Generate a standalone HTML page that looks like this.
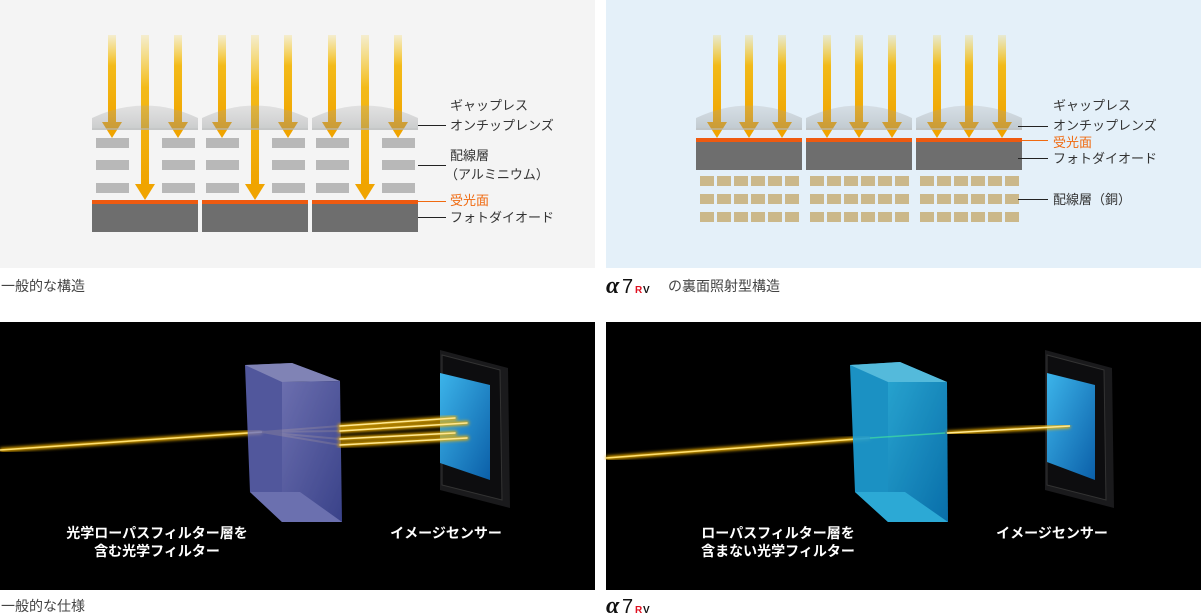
<!DOCTYPE html>
<html><head><meta charset="utf-8"><style>
html,body{margin:0;padding:0;background:#fff;}
svg{display:block;font-family:"Liberation Sans","Noto Sans CJK JP",sans-serif;}
</style></head><body>
<svg width="1201" height="615" viewBox="0 0 1201 615" xmlns="http://www.w3.org/2000/svg">
<defs>
<linearGradient id="ar" x1="0" y1="0" x2="0" y2="1">
<stop offset="0" stop-color="#f6c400" stop-opacity="0.15"/>
<stop offset="0.35" stop-color="#f3b400" stop-opacity="0.9"/>
<stop offset="1" stop-color="#f0a400"/>
</linearGradient>
<linearGradient id="lens" x1="0" y1="0" x2="0" y2="1">
<stop offset="0" stop-color="#a8a8a8" stop-opacity="0.25"/>
<stop offset="1" stop-color="#8a8e90" stop-opacity="0.4"/>
</linearGradient>
<linearGradient id="pf" x1="0" y1="0" x2="1" y2="1">
<stop offset="0" stop-color="#8a8ee0"/><stop offset="1" stop-color="#4a55b0"/>
</linearGradient>
<linearGradient id="pc" x1="0" y1="0" x2="1" y2="1">
<stop offset="0" stop-color="#2ab0e0"/><stop offset="1" stop-color="#0a78b8"/>
</linearGradient>
<linearGradient id="scr" x1="0" y1="0" x2="1" y2="1">
<stop offset="0" stop-color="#3cb4ea"/><stop offset="1" stop-color="#0b5fa8"/>
</linearGradient>
<filter id="gl"><feGaussianBlur stdDeviation="1.5"/></filter>
<g id="arrS"><rect x="-4" y="35" width="8" height="88" fill="url(#ar)"/><polygon points="-10,122 10,122 0,138" fill="#f0a400"/></g>
<g id="arrL"><rect x="-4" y="35" width="8" height="150" fill="url(#ar)"/><polygon points="-10,184 10,184 0,200" fill="#f0a400"/></g>
</defs>

<!-- top-left panel -->
<rect x="0" y="0" width="595" height="268" fill="#f4f4f4"/>
<g id="cellL">
<g fill="#b8b8b8">
<rect x="96" y="138" width="33" height="10"/><rect x="162" y="138" width="33" height="10"/>
<rect x="96" y="160" width="33" height="10"/><rect x="162" y="160" width="33" height="10"/>
<rect x="96" y="183" width="33" height="10"/><rect x="162" y="183" width="33" height="10"/>
</g>
<rect x="92" y="200" width="106" height="4" fill="#ee5a10"/>
<rect x="92" y="204" width="106" height="28" fill="#6e6e6e"/>
<use href="#arrS" x="112"/><use href="#arrS" x="178"/><use href="#arrL" x="145"/>
<path d="M92,118 Q145,93 198,118 L198,130 L92,130 Z" fill="url(#lens)"/>
<line x1="92" y1="129" x2="198" y2="129" stroke="#bfc1c1"/>
</g>
<use href="#cellL" x="110"/><use href="#cellL" x="220"/>
<g font-size="13" fill="#333">
<text x="450" y="110">ギャップレス</text>
<text x="450" y="130">オンチップレンズ</text>
<text x="450" y="160">配線層</text>
<text x="445" y="179">（アルミニウム）</text>
<text x="450" y="205" fill="#f06a10">受光面</text>
<text x="450" y="222">フォトダイオード</text>
</g>
<g stroke="#222" stroke-width="1">
<line x1="418" y1="125.5" x2="446" y2="125.5"/>
<line x1="418" y1="165.5" x2="446" y2="165.5"/>
<line x1="418" y1="217.5" x2="446" y2="217.5"/>
</g>
<line x1="418" y1="201.5" x2="446" y2="201.5" stroke="#f06a10"/>

<!-- top-right panel -->
<rect x="606" y="0" width="595" height="268" fill="#e4f0f9"/>
<g id="cellR">
<rect x="696" y="138" width="106" height="4" fill="#ee5a10"/>
<rect x="696" y="142" width="106" height="28" fill="#6e6e6e"/>
<g fill="#cbb88a">
<rect x="700" y="176" width="14" height="10"/><rect x="717" y="176" width="14" height="10"/><rect x="734" y="176" width="14" height="10"/><rect x="751" y="176" width="14" height="10"/><rect x="768" y="176" width="14" height="10"/><rect x="785" y="176" width="14" height="10"/>
<rect x="700" y="194" width="14" height="10"/><rect x="717" y="194" width="14" height="10"/><rect x="734" y="194" width="14" height="10"/><rect x="751" y="194" width="14" height="10"/><rect x="768" y="194" width="14" height="10"/><rect x="785" y="194" width="14" height="10"/>
<rect x="700" y="212" width="14" height="10"/><rect x="717" y="212" width="14" height="10"/><rect x="734" y="212" width="14" height="10"/><rect x="751" y="212" width="14" height="10"/><rect x="768" y="212" width="14" height="10"/><rect x="785" y="212" width="14" height="10"/>
</g>
<use href="#arrS" x="717"/><use href="#arrS" x="749"/><use href="#arrS" x="782"/>
<path d="M696,118 Q749,93 802,118 L802,130 L696,130 Z" fill="url(#lens)"/>
<line x1="696" y1="129" x2="802" y2="129" stroke="#bfc1c1"/>
</g>
<use href="#cellR" x="110"/><use href="#cellR" x="220"/>
<g font-size="13" fill="#333">
<text x="1053" y="110">ギャップレス</text>
<text x="1053" y="130">オンチップレンズ</text>
<text x="1053" y="147" fill="#f06a10">受光面</text>
<text x="1053" y="163">フォトダイオード</text>
<text x="1053" y="204">配線層（銅）</text>
</g>
<g stroke="#222" stroke-width="1">
<line x1="1018" y1="126.5" x2="1048" y2="126.5"/>
<line x1="1018" y1="158.5" x2="1048" y2="158.5"/>
<line x1="1018" y1="199.5" x2="1048" y2="199.5"/>
</g>
<line x1="1022" y1="140.5" x2="1048" y2="140.5" stroke="#f06a10"/>

<!-- captions -->
<g font-size="14" fill="#444">
<text x="1" y="291">一般的な構造</text>
<text x="1" y="611">一般的な仕様</text>
<text x="668" y="291">の裏面照射型構造</text>
</g>
<g id="alpha">
<text x="606" y="293" font-family="Liberation Serif,serif" font-style="italic" font-weight="bold" font-size="24" fill="#111">α</text>
<text x="622" y="293" font-size="20" fill="#111">7</text>
<text x="635" y="293" font-size="10" font-weight="bold" fill="#e01020">R</text>
<text x="643" y="293" font-size="10" font-weight="bold" fill="#111">V</text>
</g>
<use href="#alpha" y="320"/>

<!-- bottom-left -->
<rect x="0" y="322" width="595" height="268" fill="#000"/>
<line x1="0" y1="450" x2="262" y2="432" stroke="#f0b000" stroke-width="4" filter="url(#gl)"/>
<line x1="0" y1="450" x2="262" y2="432" stroke="#ffe070" stroke-width="1.5"/>
<g stroke="#c09000" stroke-width="2" opacity="0.6">
<line x1="262" y1="432" x2="340" y2="426"/><line x1="262" y1="432" x2="340" y2="431"/>
<line x1="262" y1="432" x2="340" y2="439"/><line x1="262" y1="432" x2="340" y2="445"/>
</g>
<g opacity="0.78">
<polygon points="245,365 292,363 340,381 282,382 282,522 250,492" fill="#6870c8"/>
<polygon points="245,365 292,363 340,381 282,382" fill="#a4a8e8"/>
<polygon points="282,382 340,381 342,522 282,522" fill="url(#pf)"/>
<polygon points="250,492 282,522 342,522 300,492" fill="#8a90e0"/>
</g>
<polygon points="440,350 508,368 510,508 440,490" fill="#1a1a1c"/>
<polygon points="442,355 500,370 502,500 442,485" fill="#0d0d0f" stroke="#333"/>
<polygon points="440,373 490,385 490,480 440,463" fill="url(#scr)"/>
<g stroke-linecap="round">
<g stroke="#f0b000" stroke-width="4" filter="url(#gl)">
<line x1="340" y1="426" x2="455" y2="418"/><line x1="340" y1="431" x2="467" y2="423"/>
<line x1="340" y1="439" x2="455" y2="433"/><line x1="340" y1="445" x2="467" y2="438"/>
</g>
<g stroke="#ffe890" stroke-width="1.5">
<line x1="340" y1="426" x2="455" y2="418"/><line x1="340" y1="431" x2="467" y2="423"/>
<line x1="340" y1="439" x2="455" y2="433"/><line x1="340" y1="445" x2="467" y2="438"/>
</g>
</g>
<g font-size="14" font-weight="bold" fill="#fff" text-anchor="middle">
<text x="157" y="538">光学ローパスフィルター層を</text>
<text x="157" y="556">含む光学フィルター</text>
<text x="446" y="538">イメージセンサー</text>
</g>

<!-- bottom-right -->
<rect x="606" y="322" width="595" height="268" fill="#000"/>
<line x1="606" y1="458" x2="870" y2="438" stroke="#f0b000" stroke-width="4" filter="url(#gl)"/>
<line x1="606" y1="458" x2="870" y2="438" stroke="#ffe070" stroke-width="1.5"/>
<g opacity="0.92">
<polygon points="850,365 900,362 947,382 888,382 888,522 855,492" fill="#1e9ed4"/>
<polygon points="850,365 900,362 947,382 888,382" fill="#5ccaee"/>
<polygon points="888,382 947,382 948,522 888,522" fill="url(#pc)"/>
<polygon points="855,492 888,522 948,522 905,492" fill="#30b8e8"/>
</g>
<line x1="870" y1="438" x2="945" y2="433" stroke="#40e0a0" stroke-width="1.5" opacity="0.7"/>
<polygon points="1045,350 1112,368 1114,508 1045,490" fill="#1a1a1c"/>
<polygon points="1047,355 1104,370 1106,500 1047,485" fill="#0d0d0f" stroke="#333"/>
<polygon points="1047,373 1095,385 1095,480 1047,462" fill="url(#scr)"/>
<line x1="947" y1="433" x2="1070" y2="426" stroke="#f0b000" stroke-width="4" filter="url(#gl)"/>
<line x1="947" y1="433" x2="1070" y2="426" stroke="#ffe890" stroke-width="1.5"/>
<g font-size="14" font-weight="bold" fill="#fff" text-anchor="middle">
<text x="778" y="538">ローパスフィルター層を</text>
<text x="778" y="556">含まない光学フィルター</text>
<text x="1052" y="538">イメージセンサー</text>
</g>
</svg>
</body></html>
